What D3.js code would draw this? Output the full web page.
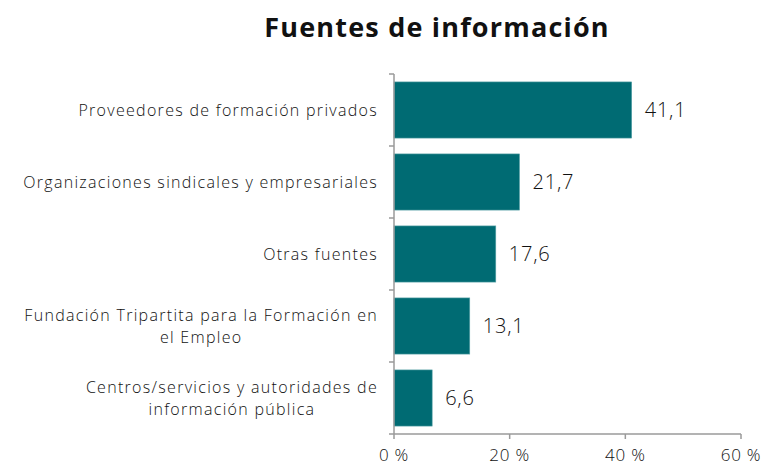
<!DOCTYPE html>
<html>
<head>
<meta charset="utf-8">
<script src="https://cdn.jsdelivr.net/npm/d3@7"></script>
<style>
  body { margin: 0; background: #fff; }
  text { font-family: "Open Sans", sans-serif; }
</style>
</head>
<body>
<div id="chart-area"></div>
<script>
// data
var categories = [
    ["Proveedores de formación privados"],
    ["Organizaciones sindicales y empresariales"],
    ["Otras fuentes"],
    ["Fundación Tripartita para la Formación en", "el Empleo"],
    ["Centros/servicios y autoridades de", "información pública"]
];
var values = [41.1, 21.7, 17.6, 13.1, 6.6];
var xTicks = [0, 20, 40, 60];

var svg_width = 767, svg_height = 465;
var margin = {top: 74, left: 394, right: 26, bottom: 31};
var width = svg_width - margin.left - margin.right;
var height = svg_height - margin.top - margin.bottom;
var barColor = "#006b73";
var textColor = "#111";

var svg = d3.select("#chart-area").append("svg")
    .attr("width", svg_width)
    .attr("height", svg_height);

svg.append("text")
    .attr("x", 437)
    .attr("y", 37)
    .attr("text-anchor", "middle")
    .attr("font-size", "27px")
    .attr("font-weight", 700)
    .attr("letter-spacing", "1.2px")
    .attr("fill", textColor)
    .text("Fuentes de información");

var g = svg.append("g")
    .attr("transform", "translate(" + margin.left + "," + margin.top + ")");

var x = d3.scaleLinear().domain([0, 60]).range([0, width]);
var idx = d3.range(values.length);
var y = d3.scaleBand().domain(idx).range([0, height]).paddingInner(0.22).paddingOuter(0.11);

// bars
g.selectAll("rect.bar").data(idx).enter()
    .append("rect")
    .attr("class", "bar")
    .attr("x", 0)
    .attr("y", function (i) { return y(i); })
    .attr("width", function (i) { return x(values[i]); })
    .attr("height", y.bandwidth())
    .attr("fill", barColor)
    .attr("stroke", "#5aa3a8")
    .attr("stroke-width", 0.6);

// value labels
g.selectAll("text.val").data(idx).enter()
    .append("text")
    .attr("class", "val")
    .attr("x", function (i) { return x(values[i]) + 13; })
    .attr("y", function (i) { return y(i) + y.bandwidth() / 2 + 7; })
    .attr("font-size", "20px")
    .attr("font-weight", 300)
    .attr("letter-spacing", "0.8px")
    .attr("fill", textColor)
    .text(function (i) { return d3.format(".1f")(values[i]).replace(".", ","); });

// axes
var axisColor = "#9a9a9a";
var band = height / values.length;
var yAx = g.append("g");
yAx.append("line").attr("x1", 0).attr("x2", 0).attr("y1", 0).attr("y2", height)
    .attr("stroke", axisColor).attr("stroke-width", 1.5);
yAx.selectAll("line.tk").data(d3.range(values.length + 1)).enter()
    .append("line").attr("class", "tk")
    .attr("x1", -5).attr("x2", 0)
    .attr("y1", function (k) { return k * band; })
    .attr("y2", function (k) { return k * band; })
    .attr("stroke", axisColor).attr("stroke-width", 1.5);

var xAx = g.append("g").attr("transform", "translate(0," + height + ")");
xAx.append("line").attr("x1", 0).attr("x2", width).attr("stroke", axisColor).attr("stroke-width", 1.5);
xAx.selectAll("line.tk").data(xTicks).enter()
    .append("line").attr("class", "tk")
    .attr("x1", function (d) { return x(d); }).attr("x2", function (d) { return x(d); })
    .attr("y1", 0).attr("y2", 5)
    .attr("stroke", axisColor).attr("stroke-width", 1.5);
xAx.selectAll("text").data(xTicks).enter()
    .append("text")
    .attr("x", function (d) { return x(d); })
    .attr("y", 27)
    .attr("text-anchor", "middle")
    .attr("font-size", "17px")
    .attr("font-weight", 300)
    .attr("letter-spacing", "0.8px")
    .attr("fill", textColor)
    .text(function (d) { return d + " %"; });

// category labels: block right-aligned, lines centred in the block
var labelRight = -16;
var lineH = 22;
idx.forEach(function (i) {
    var lines = categories[i];
    var grp = g.append("g");
    var texts = lines.map(function (s, j) {
        return grp.append("text")
            .attr("font-size", "16px")
            .attr("font-weight", 300)
            .attr("letter-spacing", "1.3px")
            .attr("fill", textColor)
            .attr("text-anchor", "middle")
            .attr("y", y(i) + y.bandwidth() / 2 + 5.5 + (j - (lines.length - 1) / 2) * lineH)
            .text(s);
    });
    var w = d3.max(texts, function (t) { return t.node().getComputedTextLength(); });
    texts.forEach(function (t) { t.attr("x", labelRight - w / 2); });
});
</script>
</body>
</html>
